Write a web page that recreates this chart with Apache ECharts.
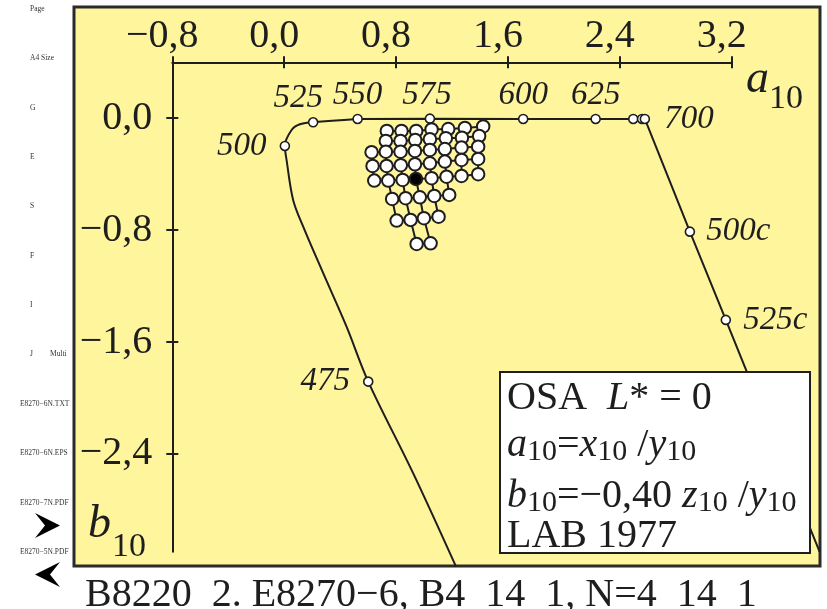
<!DOCTYPE html>
<html>
<head>
<meta charset="utf-8">
<script src="https://cdn.jsdelivr.net/npm/echarts@6/dist/echarts.min.js"></script>
<style>
html, body { margin: 0; padding: 0; background: #ffffff; }
#main { width: 827px; height: 609px; }
</style>
</head>
<body>
<div id="main"></div>
<script>
// Wavelength marks on the spectral locus (a10, b10)
const locusNames = ['475', '500', '525', '550', '575', '600', '625', '650', '675', '700', '500c', '525c'];
const locusA = [0.601, 0.005, 0.207, 0.525, 1.042, 1.709, 2.227, 2.496, 2.559, 2.579, 2.901, 3.158];
const locusB = [-1.883, -0.198, -0.029, -0.005, -0.003, -0.005, -0.005, -0.005, -0.005, -0.005, -0.811, -1.442];

// Curved short-wavelength branch of the locus (drawn smooth)
const curveA = [1.228, 0.922, 0.601, 0.446, 0.279, 0.136, 0.064, 0.017, 0.005, 0.053, 0.112, 0.207, 0.525];
const curveB = [-3.205, -2.538, -1.883, -1.490, -1.108, -0.775, -0.584, -0.298, -0.198, -0.084, -0.043, -0.029, -0.005];

// Straight long-wavelength branch and the purple line
const edgeA = [0.525, 1.042, 1.709, 2.227, 2.496, 2.559, 2.579, 2.901, 3.158, 3.829];
const edgeB = [-0.005, -0.003, -0.005, -0.005, -0.005, -0.005, -0.005, -0.811, -1.442, -3.101];

// Colour lattice: one row per entry, eight columns, null where no sample
const clusterA = [
  [null, 0.734, 0.839, 0.944, 1.054, 1.173, 1.292, 1.423],
  [null, 0.727, 0.832, 0.937, 1.042, 1.156, 1.271, 1.394],
  [0.625, 0.727, 0.832, 0.935, 1.042, 1.149, 1.268, 1.387],
  [0.632, 0.732, 0.834, 0.935, 1.042, 1.149, 1.268, 1.387],
  [0.644, 0.744, 0.847, 0.942, 1.054, 1.161, 1.268, 1.387],
  [null, 0.772, 0.868, 0.970, 1.073, 1.180, null, null],
  [null, 0.804, 0.904, 0.999, 1.104, null, null, null],
  [null, null, 0.947, 1.047, null, null, null, null]
];
const clusterB = [
  [null, -0.091, -0.091, -0.091, -0.080, -0.077, -0.069, -0.059],
  [null, -0.162, -0.162, -0.155, -0.150, -0.143, -0.139, -0.127],
  [-0.243, -0.239, -0.239, -0.234, -0.227, -0.220, -0.210, -0.203],
  [-0.341, -0.341, -0.336, -0.329, -0.322, -0.310, -0.298, -0.291],
  [-0.446, -0.446, -0.441, -0.434, -0.429, -0.418, -0.413, -0.400],
  [null, -0.577, -0.572, -0.565, -0.556, -0.548, null, null],
  [null, -0.732, -0.727, -0.715, -0.704, null, null, null],
  [null, null, -0.899, -0.894, null, null, null, null]
];
// The grey (achromatic) sample of the lattice, drawn filled
const greyRow = 4, greyCol = 3;

// Axis ticks
const xTicks = [-0.8, 0.0, 0.8, 1.6, 2.4, 3.2];
const yTicks = [0.0, -0.8, -1.6, -2.4];

// Frame captions
const sideLabels = ['Page', 'A4 Size', 'G', 'E', 'S', 'F', 'I', 'J', 'E8270\u22126N.TXT', 'E8270\u22126N.EPS', 'E8270\u22127N.PDF', 'E8270\u22125N.PDF'];
const footer = 'B8220_2. E8270\u22126, B4_14_1, N=4_14_1';

const SERIF = '"Liberation Serif", "Times New Roman", serif';
const INK = '#1e1e1e';

const fmt = v => (Math.abs(v) < 1e-9 ? 0 : v).toFixed(1).replace('.', ',').replace('-', '\u2212');

const pairs = (xs, ys) => xs.map((x, i) => [x, ys[i]]);

// label placement for the wavelength marks
const labelPlace = {
  '475': { position: 'left', distance: 13 },
  '500': { position: 'left', distance: 13 },
  '525': { position: 'top', distance: 2, offset: [-15, 0] },
  '550': { position: 'top', distance: 2 },
  '575': { position: 'top', distance: 2, offset: [-3, 0] },
  '600': { position: 'top', distance: 2 },
  '625': { position: 'top', distance: 2 },
  '650': null,
  '675': null,
  '700': { position: 'right', distance: 14 },
  '500c': { position: 'right', distance: 11 },
  '525c': { position: 'right', distance: 12 }
};

const locusPoints = locusNames.map((n, i) => {
  const p = labelPlace[n];
  return {
    value: [locusA[i], locusB[i]],
    label: p ? Object.assign({ show: true, formatter: n }, p) : { show: false }
  };
});

// Plot scale: 139.85 px per unit on both axes
const PX = 139.85;
const X0 = -0.8, X1 = 3.2, Y0 = -3.1, Y1 = 0.4;
const GRID_LEFT = 172.3, GRID_TOP = 62.3;
// twin grid (same scale) that reaches the right edge of the frame
const TX0 = 0.4, TX1 = 3.85;

const series = [];

series.push({
  type: 'line', data: pairs(curveA, curveB), smooth: 0.35, symbol: 'none', clip: false,
  lineStyle: { color: INK, width: 2 }, z: 3, silent: true
});
// the long-wavelength edge runs past the right end of the axis, so it uses the twin grid
series.push({
  type: 'line', xAxisIndex: 2, yAxisIndex: 2, data: pairs(edgeA, edgeB), smooth: false, symbol: 'none', clip: false,
  lineStyle: { color: INK, width: 2 }, z: 3, silent: true
});
series.push({
  type: 'scatter', data: locusPoints, symbol: 'circle', symbolSize: 9, clip: false,
  itemStyle: { color: '#ffffff', borderColor: INK, borderWidth: 1.6, opacity: 1 },
  label: { color: INK, fontFamily: SERIF, fontStyle: 'italic', fontSize: 33, opacity: 1 },
  z: 5, silent: true
});

// lattice lines: rows and columns
clusterA.forEach((row, r) => {
  const pts = [];
  row.forEach((a, c) => { if (a !== null) pts.push([a, clusterB[r][c]]); });
  series.push({ type: 'line', data: pts, symbol: 'none', lineStyle: { color: INK, width: 2 }, z: 3, silent: true });
});
for (let c = 0; c < 8; c++) {
  const pts = [];
  clusterA.forEach((row, r) => { if (row[c] !== null) pts.push([row[c], clusterB[r][c]]); });
  series.push({ type: 'line', data: pts, symbol: 'none', lineStyle: { color: INK, width: 2 }, z: 3, silent: true });
}
const whitePts = [], greyPts = [];
clusterA.forEach((row, r) => row.forEach((a, c) => {
  if (a === null) return;
  (r === greyRow && c === greyCol ? greyPts : whitePts).push([a, clusterB[r][c]]);
}));
series.push({
  type: 'scatter', data: whitePts, symbolSize: 12.5,
  itemStyle: { color: '#ffffff', borderColor: INK, borderWidth: 2, opacity: 1 }, z: 6, silent: true
});
series.push({
  type: 'scatter', data: greyPts, symbolSize: 12.5,
  itemStyle: { color: '#000000', borderColor: INK, borderWidth: 2, opacity: 1 }, z: 7, silent: true
});

const tickFont = { color: INK, fontFamily: SERIF, fontSize: 40 };

// Frame, captions and the inset box
const sideY = [9, 58, 108, 157, 206, 256, 305, 354, 404, 453, 503, 552];
const sideX = [30, 30, 30, 30, 30, 30, 30, 30, 20, 20, 20, 20];
const graphics = [
  { type: 'rect', shape: { x: 74, y: 7, width: 746, height: 559 }, style: { fill: '#fff59d', stroke: '#2b2b2b', lineWidth: 3 }, z: -100, silent: true }
];
sideLabels.forEach((t, i) => graphics.push({
  type: 'text', x: sideX[i], y: sideY[i], style: { text: t, fill: '#333', font: '7.5px ' + SERIF, verticalAlign: 'middle' }, silent: true
}));
graphics.push({ type: 'text', x: 50, y: 354, style: { text: 'Multi', fill: '#333', font: '7.5px ' + SERIF, verticalAlign: 'middle' }, silent: true });
graphics.push({ type: 'polygon', shape: { points: [[35, 513], [60, 525.5], [35, 538], [45, 525.5]] }, style: { fill: '#000' }, silent: true });
graphics.push({ type: 'polygon', shape: { points: [[60, 562], [35, 574.5], [60, 587], [50, 574.5]] }, style: { fill: '#000' }, silent: true });
graphics.push({ type: 'text', x: 85, y: 595, style: { text: footer, fill: INK, font: '40px ' + SERIF, verticalAlign: 'middle' }, silent: true });

// axis names
graphics.push({ type: 'text', x: 746, y: 80, style: { text: 'a', fill: INK, font: 'italic 46px ' + SERIF, verticalAlign: 'middle' }, z: 10, silent: true });
graphics.push({ type: 'text', x: 769, y: 99, style: { text: '10', fill: INK, font: '34px ' + SERIF, verticalAlign: 'middle' }, z: 10, silent: true });
graphics.push({ type: 'text', x: 88, y: 525, style: { text: 'b', fill: INK, font: 'italic 46px ' + SERIF, verticalAlign: 'middle' }, z: 10, silent: true });
graphics.push({ type: 'text', x: 112, y: 547, style: { text: '10', fill: INK, font: '34px ' + SERIF, verticalAlign: 'middle' }, z: 10, silent: true });

// inset box
const richStyles = {
  n: { fontFamily: SERIF, fontSize: 40, lineHeight: 44, color: INK },
  i: { fontFamily: SERIF, fontSize: 40, lineHeight: 44, fontStyle: 'italic', color: INK },
  s: { fontFamily: SERIF, fontSize: 30, lineHeight: 30, verticalAlign: 'bottom', color: INK }
};
graphics.push({ type: 'rect', shape: { x: 500, y: 372, width: 310, height: 181 }, style: { fill: '#ffffff', stroke: INK, lineWidth: 2 }, z: 100, silent: true });
const boxLines = [
  '{n|OSA  }{i|L}{n|* = 0}',
  '{i|a}{s|10}{n|=}{i|x}{s|10}{n| /}{i|y}{s|10}',
  '{i|b}{s|10}{n|=\u22120,40 }{i|z}{s|10}{n| /}{i|y}{s|10}',
  '{n|LAB 1977}'
];
const boxY = [398, 445, 496, 536];
boxLines.forEach((t, i) => graphics.push({
  type: 'text', x: 507, y: boxY[i], z: 101, silent: true,
  style: { text: t, rich: richStyles, verticalAlign: 'middle', fill: INK }
}));

const hiddenAxis = {
  show: false, axisLine: { show: false }, axisTick: { show: false }, axisLabel: { show: false }, splitLine: { show: false }
};

const chart = echarts.init(document.getElementById('main'));
chart.setOption({
  animation: false,
  backgroundColor: '#ffffff',
  grid: [
    { left: GRID_LEFT, top: GRID_TOP, width: (X1 - X0) * PX, height: (Y1 - Y0) * PX, containLabel: false },
    { left: GRID_LEFT + (TX0 - X0) * PX, top: GRID_TOP, width: (TX1 - TX0) * PX, height: (Y1 - Y0) * PX, containLabel: false }
  ],
  xAxis: [
    {
      type: 'value', position: 'top', min: X0, max: X1, interval: 0.8,
      axisLine: { show: true, onZero: false, lineStyle: { color: INK, width: 2 } },
      axisTick: { show: true, inside: false, length: 6, lineStyle: { color: INK, width: 2 } },
      axisLabel: Object.assign({ formatter: fmt, margin: 6, padding: [0, 20, 0, 0] }, tickFont),
      splitLine: { show: false }
    },
    {
      type: 'value', position: 'top', min: X0, max: X1, interval: 0.8,
      axisLine: { show: false, onZero: false },
      axisTick: { show: true, inside: true, length: 6, lineStyle: { color: INK, width: 2 } },
      axisLabel: { show: false }, splitLine: { show: false }
    },
    Object.assign({ type: 'value', gridIndex: 1, min: TX0, max: TX1 }, hiddenAxis)
  ],
  yAxis: [
    {
      type: 'value', position: 'left', min: Y0, max: Y1,
      axisLine: { show: true, onZero: false, lineStyle: { color: INK, width: 2 } },
      axisTick: { show: true, inside: false, length: 6, customValues: yTicks, lineStyle: { color: INK, width: 2 } },
      axisLabel: Object.assign({ formatter: fmt, margin: 20, customValues: yTicks }, tickFont),
      splitLine: { show: false }
    },
    {
      type: 'value', position: 'left', min: Y0, max: Y1,
      axisLine: { show: false, onZero: false },
      axisTick: { show: true, inside: true, length: 6, customValues: yTicks, lineStyle: { color: INK, width: 2 } },
      axisLabel: { show: false, customValues: yTicks }, splitLine: { show: false }
    },
    Object.assign({ type: 'value', gridIndex: 1, min: Y0, max: Y1 }, hiddenAxis)
  ],
  graphic: graphics,
  series: series
});
</script>
</body>
</html>
